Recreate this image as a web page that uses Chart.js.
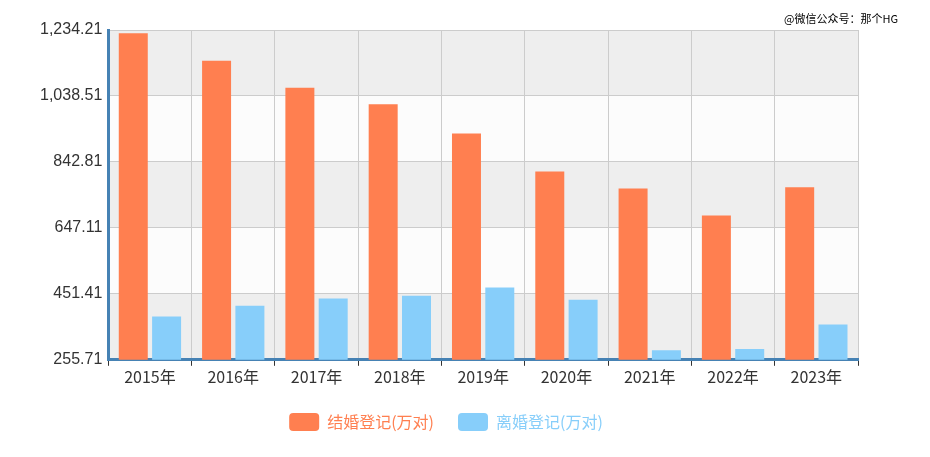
<!DOCTYPE html>
<html><head><meta charset="utf-8">
<script src="https://cdn.jsdelivr.net/npm/chart.js@4"></script>
<style>body{margin:0;background:#fff}#wrap{width:930px;height:457px;position:relative}
#wm{position:absolute;right:32px;top:10px;font:11px "Noto Sans CJK SC";color:#000}</style>
</head><body><div id="wrap"><canvas id="c"></canvas><div id="wm">@微信公众号：那个HG</div></div>
<script>
const years = ['2015年','2016年','2017年','2018年','2019年','2020年','2021年','2022年','2023年'];
const marriage = [1224.7, 1142.8, 1063.1, 1013.9, 927.3, 814.3, 764.3, 683.5, 768.0];
const divorce = [384.1, 415.8, 437.4, 446.1, 470.1, 433.9, 283.9, 287.9, 360.5];
const yMin = 255.71, yMax = 1234.21, yStep = 195.7;

// 交互の背景帯
const bands = {
  id: 'bands',
  beforeDraw(chart) {
    const {ctx, chartArea: a, scales: {y}} = chart;
    ctx.save();
    for (let i = 0; i < 5; i++) {
      const top = y.getPixelForValue(yMax - i * yStep), bot = y.getPixelForValue(yMax - (i + 1) * yStep);
      ctx.fillStyle = i % 2 === 0 ? '#eeeeee' : '#fcfcfc';
      ctx.fillRect(a.left, top, a.right - a.left, bot - top);
    }
    ctx.restore();
  }
};

new Chart(document.getElementById('c'), {
  type: 'bar',
  data: {
    labels: years,
    datasets: [
      {label: '结婚登记(万对)', data: marriage, backgroundColor: '#ff7f50', categoryPercentage: 0.8, barPercentage: 0.87},
      {label: '离婚登记(万对)', data: divorce, backgroundColor: '#87cefa', categoryPercentage: 0.8, barPercentage: 0.87}
    ]
  },
  options: {
    responsive: true, maintainAspectRatio: false, animation: false,
    layout: {padding: {top: 30, right: 72, left: 34, bottom: 16}},
    plugins: {
      legend: {position: 'bottom', labels: {boxWidth: 30, boxHeight: 18, padding: 24, useBorderRadius: true, borderRadius: 4,
        font: {size: 16, family: '"Noto Sans CJK SC"'},
        generateLabels(chart) {
          return chart.data.datasets.map((d, i) => ({text: d.label, fillStyle: d.backgroundColor, strokeStyle: d.backgroundColor,
            fontColor: d.backgroundColor, lineWidth: 0, datasetIndex: i, borderRadius: 4}));
        }}},
      tooltip: {enabled: false}
    },
    scales: {
      x: {grid: {color: '#cccccc', offset: true, tickLength: 6, tickColor: '#333'},
        border: {color: '#4682b4', width: 3},
        ticks: {color: '#333', padding: 2, font: {size: 16, family: '"Noto Sans CJK SC"'}}},
      y: {min: yMin, max: yMax,
        afterBuildTicks(s) { s.ticks = [0,1,2,3,4,5].map(i => ({value: yMin + i * yStep})); },
        grid: {color: '#cccccc', drawTicks: false},
        border: {color: '#4682b4', width: 3},
        ticks: {color: '#333', padding: 6, font: {size: 16, family: 'Liberation Sans'},
          callback: v => v.toLocaleString('en-US', {minimumFractionDigits: 2, maximumFractionDigits: 2})}}
    }
  },
  plugins: [bands]
});
</script></body></html>
